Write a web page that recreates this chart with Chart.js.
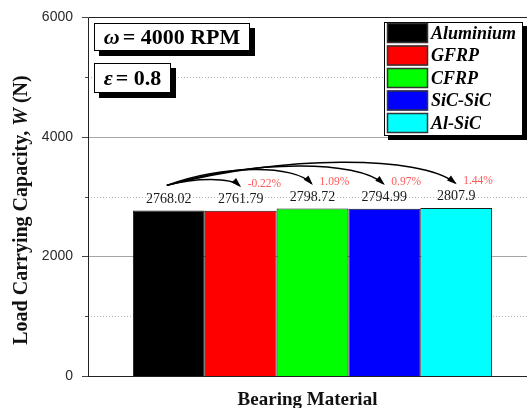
<!DOCTYPE html>
<html>
<head>
<meta charset="utf-8">
<script src="https://cdn.jsdelivr.net/npm/chart.js@4/dist/chart.umd.min.js"></script>
<style>
  html, body { margin: 0; padding: 0; background: #fff; overflow: hidden; }
  #wrap { width: 540px; height: 408px; }
</style>
</head>
<body>
<div id="wrap"><canvas id="chart" width="540" height="408"></canvas></div>
<script>
// Load carrying capacity per bearing material
const materials = ['Aluminium', 'GFRP', 'CFRP', 'SiC-SiC', 'Al-SiC'];
const loadCapacity = [2768.02, 2761.79, 2798.72, 2794.99, 2807.9];
const valueLabels = ['2768.02', '2761.79', '2798.72', '2794.99', '2807.9'];
const changeLabels = ['', '-0.22%', '1.09%', '0.97%', '1.44%'];
const barColors = ['#000000', '#ff0000', '#00ff00', '#0000ff', '#00ffff'];
const majorTicks = [0, 2000, 4000, 6000];
const minorTicks = [1000, 3000, 5000];
const xTitle = 'Bearing Material';
const speedNote = ['\u03C9', '= 4000 RPM'];
const eccNote = ['\u03B5', '= 0.8'];

const SERIF = '"Liberation Serif", "Times New Roman", serif';
const SANS = '"Liberation Sans", Arial, sans-serif';

function drawRuns(ctx, runs, x, y) {
  let cx = x;
  for (const r of runs) {
    ctx.font = r.font;
    ctx.fillText(r.text, cx, y);
    cx += ctx.measureText(r.text).width + (r.gap || 0);
  }
  return cx;
}
function runsWidth(ctx, runs) {
  let w = 0;
  for (const r of runs) { ctx.font = r.font; w += ctx.measureText(r.text).width + (r.gap || 0); }
  return w;
}
function shadowBox(ctx, x, y, w, h, off) {
  ctx.fillStyle = '#000';
  ctx.fillRect(x + off, y + off, w, h);
  ctx.fillStyle = '#fff';
  ctx.fillRect(x, y, w, h);
  ctx.strokeStyle = '#000';
  ctx.lineWidth = 1;
  ctx.strokeRect(x + 0.5, y + 0.5, w - 1, h - 1);
}
function arrow(ctx, x0, y0, x1, y1, lift) {
  const dx = x1 - x0;
  const c1x = x0 + dx * 0.4, c1y = Math.min(y0, y1) - lift;
  const c2x = x1 - dx * 0.12, c2y = Math.min(y0, y1) - lift;
  ctx.strokeStyle = '#000';
  ctx.lineWidth = 1.5;
  ctx.beginPath();
  ctx.moveTo(x0, y0);
  ctx.bezierCurveTo(c1x, c1y, c2x, c2y, x1, y1);
  ctx.stroke();
  const ang = Math.atan2(y1 - c2y, x1 - c2x);
  const len = 8, half = 3.2;
  ctx.fillStyle = '#000';
  ctx.beginPath();
  ctx.moveTo(x1 + Math.cos(ang) * 2, y1 + Math.sin(ang) * 2);
  ctx.lineTo(x1 - Math.cos(ang) * len - Math.sin(ang) * half, y1 - Math.sin(ang) * len + Math.cos(ang) * half);
  ctx.lineTo(x1 - Math.cos(ang) * len + Math.sin(ang) * half, y1 - Math.sin(ang) * len - Math.cos(ang) * half);
  ctx.closePath();
  ctx.fill();
}

const decor = {
  id: 'decor',
  beforeDatasetsDraw(chart) {
    const { ctx, chartArea: a, scales: { y } } = chart;
    ctx.save();
    // grid lines: solid for major steps, dotted for the intermediate ones
    ctx.lineWidth = 1;
    ctx.strokeStyle = '#a6a6a6';
    majorTicks.forEach(v => {
      if (v === 0 || v === 6000) return;
      const py = Math.round(y.getPixelForValue(v)) + 0.5;
      ctx.beginPath(); ctx.moveTo(a.left, py); ctx.lineTo(a.right, py); ctx.stroke();
    });
    ctx.strokeStyle = '#b4b4b4';
    ctx.setLineDash([1, 2]);
    minorTicks.forEach(v => {
      const py = Math.round(y.getPixelForValue(v)) + 0.5;
      ctx.beginPath(); ctx.moveTo(a.left, py); ctx.lineTo(a.right, py); ctx.stroke();
    });
    ctx.restore();
  },
  afterDatasetsDraw(chart) {
    const { ctx, chartArea: a, scales: { y } } = chart;
    ctx.save();

    // frame and ticks
    ctx.strokeStyle = '#222';
    ctx.lineWidth = 1;
    const L = a.left + 0.5, T = Math.round(a.top) + 0.5, B = Math.round(a.bottom) + 0.5;
    ctx.beginPath();
    ctx.moveTo(L, T); ctx.lineTo(a.right, T);
    ctx.moveTo(L, T); ctx.lineTo(L, B);
    ctx.moveTo(a.left - 6, B); ctx.lineTo(a.right, B);
    ctx.stroke();
    ctx.strokeStyle = '#444';
    majorTicks.forEach(v => {
      const py = Math.round(y.getPixelForValue(v)) + 0.5;
      ctx.beginPath(); ctx.moveTo(a.left - 6, py); ctx.lineTo(a.left, py); ctx.stroke();
    });
    minorTicks.forEach(v => {
      const py = Math.round(y.getPixelForValue(v)) + 0.5;
      ctx.beginPath(); ctx.moveTo(a.left - 3, py); ctx.lineTo(a.left, py); ctx.stroke();
    });

    // bar positions from the library
    const bars = chart.data.datasets.map((d, i) => chart.getDatasetMeta(i).data[0]);

    // value labels
    ctx.fillStyle = '#1a1a1a';
    ctx.font = '14px ' + SERIF;
    ctx.textAlign = 'center';
    ctx.textBaseline = 'middle';
    bars.forEach((b, i) => ctx.fillText(valueLabels[i], b.x, b.y - 11.5));

    // change arrows from the first material to each other one
    const lifts = [0, 8, 19, 24, 28];
    const x0 = bars[0].x - 2, y0 = bars[0].y - 25;
    for (let i = 1; i < bars.length; i++) {
      const ex = bars[i].x - 1, ey = bars[i].y - 25;
      arrow(ctx, x0, y0, ex, ey, lifts[i]);
      ctx.fillStyle = '#ff5a5a';
      ctx.font = '11.5px ' + SERIF;
      ctx.textAlign = 'left';
      ctx.fillText(changeLabels[i], ex + 8, bars[i].y - 27);
    }

    // note boxes
    ctx.textAlign = 'left';
    ctx.textBaseline = 'alphabetic';
    const noteFont = 'bold 22px ' + SERIF, noteSym = 'italic bold 22px ' + SERIF;
    shadowBox(ctx, 94, 23, 156, 28, 5);
    ctx.fillStyle = '#000';
    const r1 = [{ text: speedNote[0], font: noteSym, gap: 3 }, { text: speedNote[1], font: noteFont }];
    drawRuns(ctx, r1, 94 + (156 - runsWidth(ctx, r1)) / 2, 44);
    shadowBox(ctx, 94, 63, 77, 30, 5);
    ctx.fillStyle = '#000';
    const r2 = [{ text: eccNote[0], font: noteSym, gap: 3 }, { text: eccNote[1], font: noteFont }];
    drawRuns(ctx, r2, 94 + (77 - runsWidth(ctx, r2)) / 2, 85);

    // legend
    shadowBox(ctx, 384, 22, 139, 114, 4);
    chart.data.datasets.forEach((d, i) => {
      const ry = 23 + i * 22.5;
      ctx.fillStyle = d.backgroundColor;
      ctx.fillRect(387, ry, 41, 20);
      ctx.strokeStyle = '#333';
      ctx.lineWidth = 1.5;
      ctx.strokeRect(387.5, ry + 0.5, 40, 19);
      ctx.fillStyle = '#000';
      ctx.font = 'italic bold 18px ' + SERIF;
      ctx.textBaseline = 'middle';
      ctx.fillText(d.label, 431, ry + 11);
    });

    // axis titles
    ctx.fillStyle = '#111';
    ctx.textBaseline = 'middle';
    ctx.textAlign = 'center';
    ctx.font = 'bold 19px ' + SERIF;
    ctx.fillText(chart.data.labels[0], (a.left + a.right) / 2 - 5, 400);

    const yRuns = [
      { text: 'Load Carrying Capacity, ', font: 'bold 20px ' + SERIF },
      { text: 'W', font: 'italic bold 20px ' + SERIF },
      { text: ' (N)', font: 'bold 20px ' + SERIF }
    ];
    ctx.save();
    ctx.translate(22, 210);
    ctx.rotate(-Math.PI / 2);
    ctx.textAlign = 'left';
    drawRuns(ctx, yRuns, -runsWidth(ctx, yRuns) / 2, 0);
    ctx.restore();

    ctx.restore();
  }
};

new Chart(document.getElementById('chart'), {
  type: 'bar',
  data: {
    labels: [xTitle],
    datasets: materials.map((m, i) => ({
      label: m,
      data: [loadCapacity[i]],
      backgroundColor: barColors[i],
      borderColor: '#1a1a1a',
      borderWidth: 1,
      categoryPercentage: 0.8,
      barPercentage: 1
    }))
  },
  options: {
    responsive: false,
    animation: false,
    devicePixelRatio: 1,
    layout: { padding: { top: 17, right: 3, left: 0, bottom: 0 } },
    plugins: { legend: { display: false }, tooltip: { enabled: false } },
    scales: {
      x: {
        grid: { display: false },
        border: { display: false },
        ticks: { display: false },
        afterFit(s) { s.height = 32; }
      },
      y: {
        min: 0,
        max: 6000,
        ticks: {
          stepSize: 1000,
          callback: v => (majorTicks.includes(v) ? String(v) : ''),
          font: { family: SANS, size: 14 },
          color: '#2a2a2a',
          padding: 7
        },
        grid: { display: false },
        border: { display: false },
        afterFit(s) { s.width = 88; }
      }
    }
  },
  plugins: [decor]
});
</script>
</body>
</html>
